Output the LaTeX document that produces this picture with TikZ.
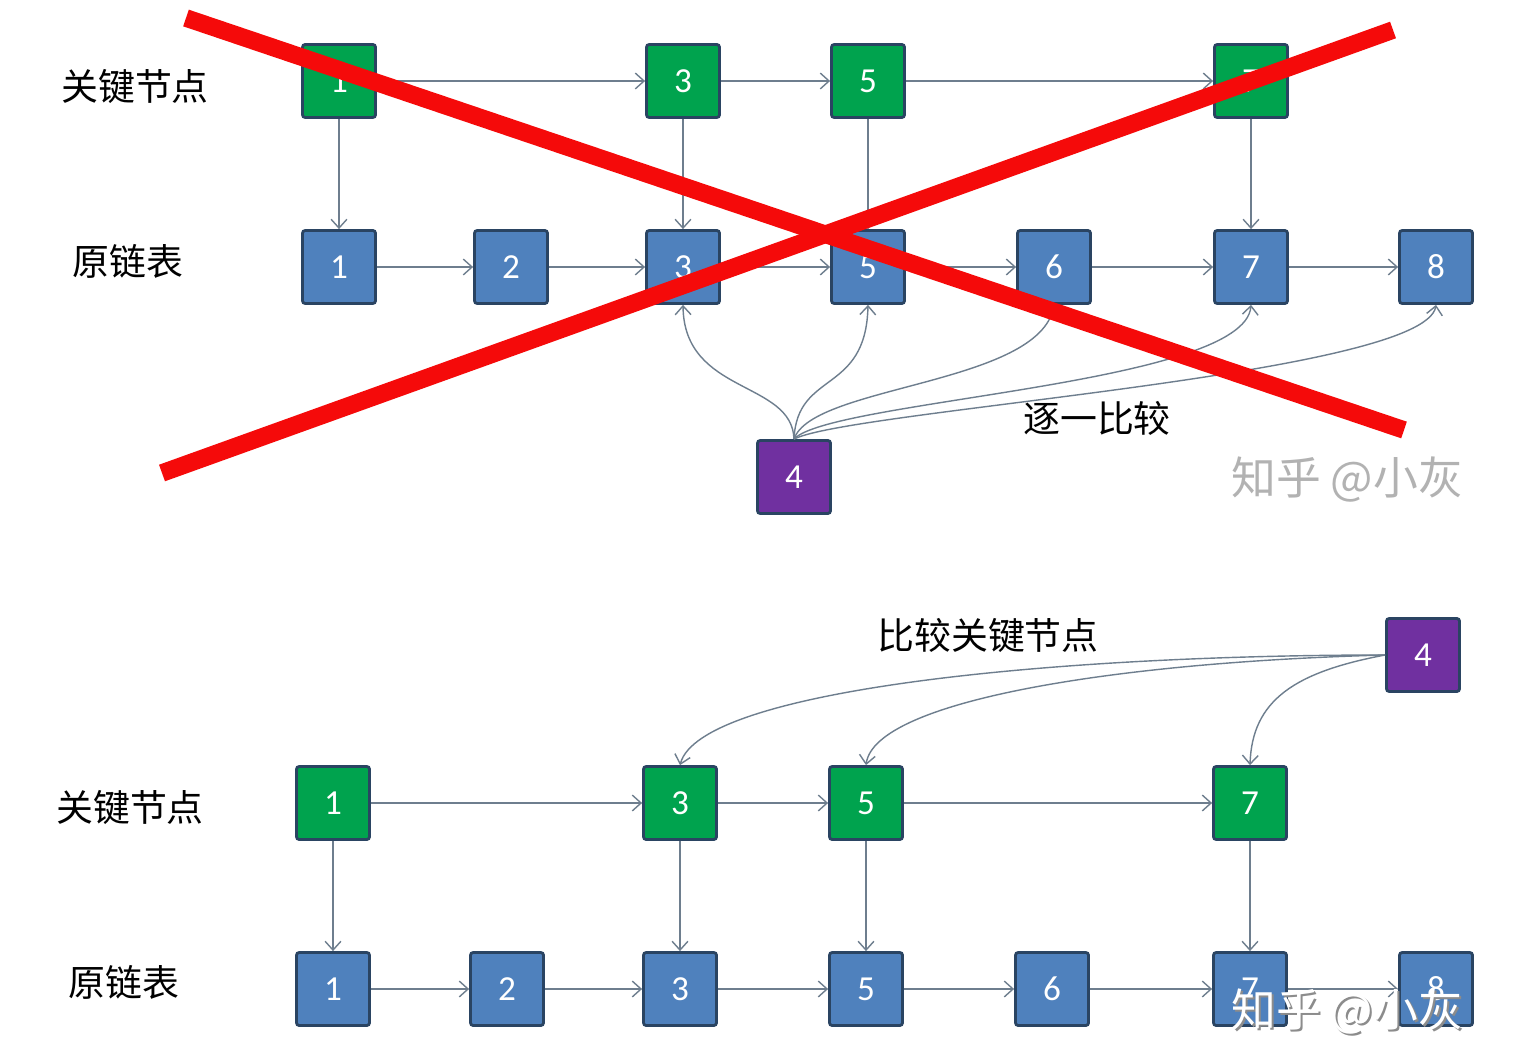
\documentclass[tikz,border=0pt]{standalone}
\usepackage{fontspec}
\setmainfont{Carlito}
\newfontfamily\cjk{Noto Sans CJK SC}
\usetikzlibrary{arrows.meta}

\definecolor{keygreen}{RGB}{0,163,78}
\definecolor{itemblue}{RGB}{79,129,189}
\definecolor{probepurple}{RGB}{112,48,160}
\definecolor{boxline}{RGB}{42,68,98}
\definecolor{linkgray}{RGB}{110,126,142}
\definecolor{crossred}{RGB}{245,10,10}

\begin{document}
\begin{tikzpicture}
  [x=0.02cm,y=-0.02cm,
   box/.style={draw=boxline,line width=1.6pt,rounded corners=1.5pt,minimum size=1.46cm,
     inner sep=0pt,text=white,font=\fontsize{20}{24}\selectfont},
   key/.style={box,fill=keygreen},
   item/.style={box,fill=itemblue},
   probe/.style={box,fill=probepurple},
   lbl/.style={font=\cjk\fontsize{21}{25}\selectfont},
   link/.style={draw=linkgray,line width=0.8pt,-{Straight Barb[length=5pt,width=9pt]}},
   cross/.style={draw=crossred,line width=10pt},
   wmark/.style={font=\cjk\fontsize{25.5}{30}\selectfont,text=black!30},
   wshade/.style={font=\cjk\fontsize{25.5}{30}\selectfont,text=black!45}]
  \useasboundingbox[fill=white] (0,0) rectangle (1524,1057);

  % top: scan the original list
  \node[lbl] (tl1) at (135,87) {关键节点};
  \node[lbl] (tl2) at (128,261) {原链表};

  \node[key] (k1) at (339,81) {1};
  \node[key] (k3) at (683,81) {3};
  \node[key] (k5) at (868,81) {5};
  \node[key] (k7) at (1251,81) {7};

  \node[item] (a1) at (339,267) {1};
  \node[item] (a2) at (511,267) {2};
  \node[item] (a3) at (683,267) {3};
  \node[item] (a5) at (868,267) {5};
  \node[item] (a6) at (1054,267) {6};
  \node[item] (a7) at (1251,267) {7};
  \node[item] (a8) at (1436,267) {8};

  \node[probe] (p) at (794,477) {4};
  \node[lbl] (tl3) at (1097,418) {逐一比较};

  \foreach \from/\to in {k1/k3,k3/k5,k5/k7,k1/a1,k3/a3,k5/a5,k7/a7,
                         a1/a2,a2/a3,a3/a5,a5/a6,a6/a7,a7/a8}
    \draw[link] (\from) -- (\to);

  \draw[link] (p.north) .. controls (792,380) and (684,395) .. (a3.south);
  \draw[link] (p.north) .. controls (797,370) and (866,395) .. (a5.south);
  \draw[link] (p.north) .. controls (812,385) and (1040,385) .. (a6.south);
  \draw[link] (p.north) .. controls (830,400) and (1245,385) .. (a7.south);
  \draw[link] (p.north) .. controls (850,410) and (1425,375) .. (a8.south);

  \draw[cross] (186,18) -- (1404,430);
  \draw[cross] (162,473) -- (1393,30);

  \node[wmark] (w1) at (1347,480) {知乎 @小灰};

  % bottom: compare with the key nodes first
  \node[lbl] (bl1) at (130,808) {关键节点};
  \node[lbl] (bl2) at (124,982) {原链表};

  \node[probe] (q) at (1423,655) {4};
  \node[lbl] (bl3) at (988,635) {比较关键节点};

  \node[key] (bk1) at (333,803) {1};
  \node[key] (bk3) at (680,803) {3};
  \node[key] (bk5) at (866,803) {5};
  \node[key] (bk7) at (1250,803) {7};

  \node[item] (b1) at (333,989) {1};
  \node[item] (b2) at (507,989) {2};
  \node[item] (b3) at (680,989) {3};
  \node[item] (b5) at (866,989) {5};
  \node[item] (b6) at (1052,989) {6};
  \node[item] (b7) at (1250,989) {7};
  \node[item] (b8) at (1436,989) {8};

  \foreach \from/\to in {bk1/bk3,bk3/bk5,bk5/bk7,bk1/b1,bk3/b3,bk5/b5,bk7/b7,
                         b1/b2,b2/b3,b3/b5,b5/b6,b6/b7,b7/b8}
    \draw[link] (\from) -- (\to);

  \draw[link] (q.west) .. controls (1050,655) and (700,690) .. (bk3.north);
  \draw[link] (q.west) .. controls (1120,662) and (875,700) .. (bk5.north);
  \draw[link] (q.west) .. controls (1295,672) and (1252,700) .. (bk7.north);

  \node[wshade] (w2s) at (1349,1014) {知乎 @小灰};
  \node[wmark,text=white] (w2) at (1347,1012) {知乎 @小灰};
\end{tikzpicture}
\end{document}
